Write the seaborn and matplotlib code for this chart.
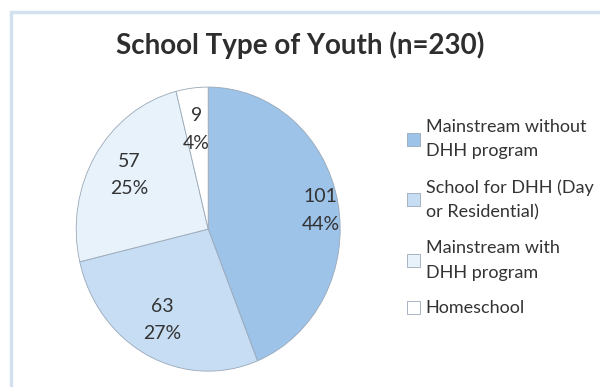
import matplotlib
matplotlib.use("Agg")
import matplotlib.pyplot as plt
import seaborn as sns
from matplotlib.patches import Rectangle

sns.set_theme(style="white")
plt.rcParams['font.family'] = ['Lato', 'DejaVu Sans']

categories = ["Mainstream without\nDHH program", "School for DHH (Day\nor Residential)",
              "Mainstream with\nDHH program", "Homeschool"]
counts = [101, 63, 57, 9]
percents = ["44%", "27%", "25%", "4%"]
colors = ["#9dc3e9", "#c6ddf3", "#e8f2fb", "#ffffff"]

fig = plt.figure(figsize=(6, 3.87), dpi=100)
fig.patch.set_facecolor("white")
fig.patches.append(Rectangle((0.018, -0.01), 0.99, 0.98, transform=fig.transFigure,
                             fill=False, edgecolor="#d3e0ee", linewidth=2.5))

ax = fig.add_axes([0.127, 0.041, 0.44, 0.734])
wedges, _ = ax.pie(counts, colors=colors, startangle=90, counterclock=False,
                   wedgeprops=dict(edgecolor="#9aa8b8", linewidth=0.6))
ax.set_aspect("auto")
ax.set_xlim(-1.0, 1.0)
ax.set_ylim(-1.0, 1.0)

label_pos = [(0.85, 0.13), (-0.35, -0.64), (-0.6, 0.38), (-0.09, 0.7)]
for (x, y), c, p in zip(label_pos, counts, percents):
    ax.text(x, y, f"{c}\n{p}", ha="center", va="center", fontsize=14,
            color="#333333", linespacing=1.75)

fig.text(0.5, 0.884, "School Type of Youth (n=230)", ha="center", va="center",
         fontsize=20, color="#2e2e2e", fontweight="bold")

leg = fig.legend(wedges, categories, loc="upper left", bbox_to_anchor=(0.667, 0.712),
                 frameon=False, fontsize=13, handlelength=0.72, handleheight=0.72,
                 handletextpad=0.3, labelspacing=1.1, labelcolor="#333333",
                 borderaxespad=0)
for t in leg.get_texts():
    t.set_linespacing(1.65)

fig.savefig("out.png", dpi=100)
